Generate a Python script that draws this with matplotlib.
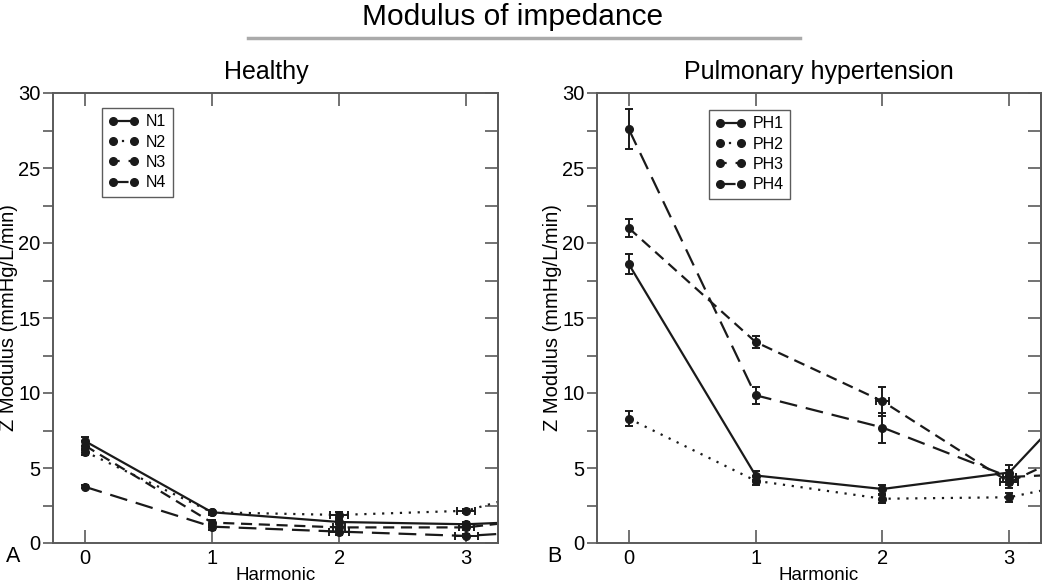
import matplotlib
matplotlib.use('Agg')
import matplotlib.pyplot as plt
from matplotlib.lines import Line2D

plt.rcParams['font.family'] = ['Liberation Sans', 'DejaVu Sans']

harmonic = [0, 1, 2, 3, 4]

# healthy
n1 = [6.8, 2.05, 1.4, 1.25, 1.6]
n2 = [6.1, 2.05, 1.87, 2.15, 4.5]
n3 = [6.5, 1.36, 1.04, 1.04, 2.0]
n4 = [3.75, 1.09, 0.76, 0.47, 1.0]
n1_err = [0.3, 0.15, 0.15, 0.15, 0]
n2_err = [0.2, 0.15, 0.2, 0.15, 0]
n3_err = [0.3, 0.2, 0.2, 0.2, 0]
n4_err = [0.1, 0.2, 0.2, 0.1, 0]
n1_xerr = [0, 0, 0, 0, 0]
n2_xerr = [0, 0, 0.07, 0.07, 0]
n3_xerr = [0, 0, 0.05, 0.06, 0]
n4_xerr = [0, 0, 0.08, 0.09, 0]

# pulmonary hypertension
ph1 = [18.6, 4.5, 3.6, 4.7, 13.7]
ph2 = [8.3, 4.15, 2.95, 3.05, 4.8]
ph3 = [21.0, 13.4, 9.45, 4.05, 8.0]
ph4 = [27.6, 9.85, 7.7, 4.4, 4.8]
ph1_err = [0.7, 0.3, 0.3, 0.5, 0]
ph2_err = [0.5, 0.3, 0.25, 0.3, 0]
ph3_err = [0.63, 0.42, 0.95, 0.4, 0]
ph4_err = [1.33, 0.55, 1.0, 0.5, 0]
ph1_xerr = [0, 0, 0, 0, 0]
ph2_xerr = [0, 0, 0, 0, 0]
ph3_xerr = [0, 0, 0.05, 0.07, 0]
ph4_xerr = [0, 0, 0, 0.05, 0]

major = [0, 5, 10, 15, 20, 25, 30]
minor = [2.5, 7.5, 12.5, 17.5, 22.5, 27.5]
styles = ['-', (0, (1, 3)), (0, (5, 3)), (0, (8, 4))]
legend_styles = ['-', (0, (1, 3)), (0, (3, 4)), (0, (7, 4))]
spine_col = '#5a5a5a'
ink = '#1a1a1a'


def panel(ax, series, errs, xerrs, labels, title, title_x, letter, legend_pos,
          ylab_x, letter_x):
    for y, e, xe, ls, lab in zip(series, errs, xerrs, styles, labels):
        ax.errorbar(harmonic, y, yerr=e, xerr=xe, color=ink, ls=ls,
                    lw=1.6, marker='o', ms=5.5, capsize=3, elinewidth=1.4,
                    capthick=1.4, label=lab)
    ax.set_xlim(-0.25, 3.25)
    ax.set_ylim(0, 30)
    ax.set_xticks([0, 1, 2, 3])
    ax.set_yticks(major)
    ax.set_yticks(minor, minor=True)
    ax.tick_params(axis='x', direction='in', top=True, length=9.5, width=1.2,
                   color=spine_col, labelsize=14.5, pad=4.5)
    ax.tick_params(axis='y', which='both', direction='out', right=False,
                   length=7, width=1.2, color=spine_col, labelsize=14.5, pad=2)
    # inward ticks on the right spine
    sec = ax.secondary_yaxis('right')
    sec.set_yticks(major)
    sec.set_yticks(minor, minor=True)
    sec.tick_params(which='both', direction='in', length=9.5, width=1.2,
                    color=spine_col, labelright=False)
    for s in list(ax.spines.values()) + list(sec.spines.values()):
        s.set_color(spine_col)
        s.set_linewidth(1.4)
    ax.set_xlabel('Harmonic', fontsize=13.5)
    ax.xaxis.set_label_coords(0.5, -0.054)
    ax.set_ylabel('Z Modulus (mmHg/L/min)', fontsize=14.5)
    ax.yaxis.set_label_coords(ylab_x, 0.5)
    ax.set_title(title, fontsize=18, pad=10, x=title_x)
    ax.text(letter_x, -0.031, letter, transform=ax.transAxes, fontsize=15.5,
            ha='center', va='center')
    handles = [Line2D([0], [0], color=ink, ls=ls, lw=1.6, marker='o', ms=5.5)
               for ls in legend_styles]
    ax.legend(handles, labels, loc='upper left', bbox_to_anchor=legend_pos,
              numpoints=2, handlelength=1.9, fontsize=11.5, frameon=True,
              fancybox=False, edgecolor='#333333', borderpad=0.4,
              labelspacing=0.33, handletextpad=0.45, borderaxespad=0)


fig = plt.figure(figsize=(10.5, 5.83), dpi=100)
ax1 = fig.add_axes([53 / 1050, 1 - 543 / 583, 445 / 1050, 450 / 583])
ax2 = fig.add_axes([597 / 1050, 1 - 543 / 583, 444 / 1050, 450 / 583])

panel(ax1, [n1, n2, n3, n4], [n1_err, n2_err, n3_err, n4_err],
      [n1_xerr, n2_xerr, n3_xerr, n4_xerr], ['N1', 'N2', 'N3', 'N4'],
      'Healthy', (266 - 53) / 445, 'A', (49 / 445, 1 - 15 / 450), -0.078, -0.09)
panel(ax2, [ph1, ph2, ph3, ph4], [ph1_err, ph2_err, ph3_err, ph4_err],
      [ph1_xerr, ph2_xerr, ph3_xerr, ph4_xerr], ['PH1', 'PH2', 'PH3', 'PH4'],
      'Pulmonary hypertension', 0.5, 'B', (112 / 444, 1 - 17 / 450), -0.079, -0.095)

fig.text(513 / 1050, 1 - 17 / 583, 'Modulus of impedance', ha='center',
         va='center', fontsize=21.5)
fig.add_artist(Line2D([248 / 1050, 800 / 1050], [1 - 38 / 583, 1 - 38 / 583],
                      color='#aaaaaa', lw=2.5))

fig.savefig('out.png', dpi=100)
